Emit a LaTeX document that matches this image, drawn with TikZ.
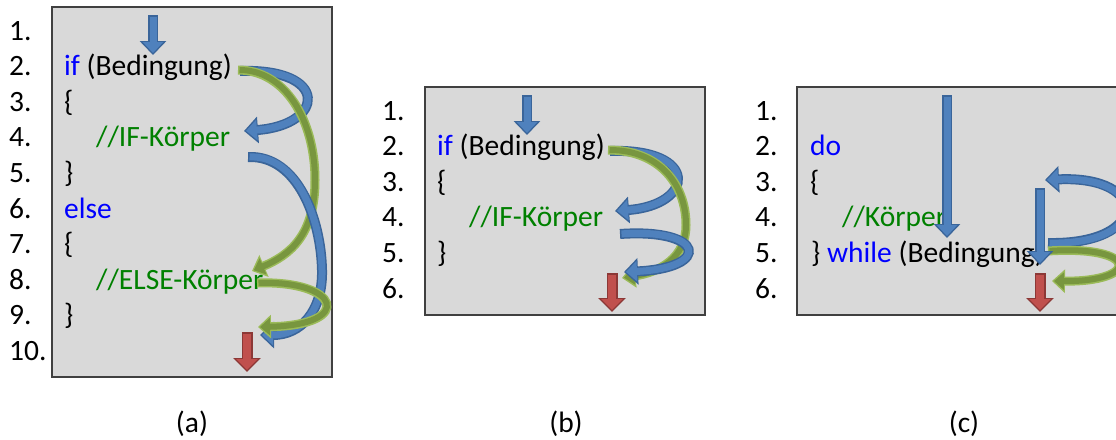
\documentclass[tikz,border=0pt]{standalone}
\usepackage{fontspec}
\setmainfont{Carlito}
\usetikzlibrary{arrows.meta}

\definecolor{panelfill}{HTML}{D9D9D9}
\definecolor{panelline}{HTML}{404040}
\definecolor{kwblue}{RGB}{0,0,255}
\definecolor{cmtgreen}{RGB}{0,128,0}
\definecolor{arrblue}{HTML}{4F81BD}
\definecolor{arrblueline}{HTML}{3A659A}
\definecolor{arrgreen}{HTML}{78963F}
\definecolor{arrgreenline}{HTML}{9BBB59}
\definecolor{arrred}{HTML}{C0504D}
\definecolor{arrredline}{HTML}{8C3836}

\newcommand{\kwd}[1]{\textcolor{kwblue}{#1}}

\begin{document}
\begin{tikzpicture}[x=1pt,y=-1pt,font=\fontsize{29.5}{35}\selectfont,
        every node/.style={anchor=base west,inner sep=0pt},
        panel/.style={draw=panelline,fill=panelfill,line width=1.3pt},
        blueflow/.style={draw=arrblueline,line width=10pt,-{Triangle[width=26pt,length=14pt]},
          postaction={draw=arrblue,line width=7pt,shorten <=1.5pt,shorten >=2pt,-{Triangle[width=20pt,length=11pt]}}},
        greenflow/.style={draw=arrgreenline,line width=9pt,-{Triangle[width=23pt,length=13pt]},
          postaction={draw=arrgreen,line width=6pt,shorten <=1.5pt,shorten >=2pt,-{Triangle[width=17pt,length=10pt]}}},
        redflow/.style={draw=arrredline,line width=11pt,-{Triangle[width=27pt,length=14pt]},
          postaction={draw=arrred,line width=8pt,shorten <=1.5pt,shorten >=2pt,-{Triangle[width=21pt,length=11pt]}}}]

        \useasboundingbox (0,0) rectangle (1116,439);
        \clip (0,0) rectangle (1116,439);

        % (a) if / else
        \draw[panel] (52,7) rectangle (332,377);
        \foreach \i in {1,...,10}
          \node (a\i) at (9,{40+35.6*(\i-1)}) {\i.};
        \node (aif) at (64,75.6) {\kwd{if} (Bedingung)};
        \node (aopen) at (64,111.2) {\{};
        \node[text=cmtgreen] (aifbody) at (96,146.8) {//IF-Körper};
        \node (aclose) at (64,182.4) {\}};
        \node (aelse) at (64,218) {\kwd{else}};
        \node (aopen2) at (64,253.6) {\{};
        \node[text=cmtgreen] (aelsebody) at (96,289.2) {//ELSE-Körper};
        \node (aclose2) at (64,324.8) {\}};

        \draw[blueflow] (153,15) -- (153,55);
        \draw[blueflow] (240,71) .. controls (330,68) and (325,125) .. (244,131);
        \draw[greenflow] (238,70) .. controls (285,70) and (315,120) .. (315,180)
          .. controls (315,235) and (290,255) .. (252,271);
        \draw[blueflow] (248,157) .. controls (298,155) and (321,220) .. (322,270)
          .. controls (323,312) and (300,335) .. (260,335);
        \draw[greenflow] (257,283) .. controls (340,280) and (355,325) .. (258,327);
        \draw[redflow] (247,332) -- (247,372);

        % (b) if
        \draw[panel] (425,87) rectangle (705,315);
        \foreach \i in {1,...,6}
          \node (b\i) at (382,{120+35.6*(\i-1)}) {\i.};
        \node (bif) at (437,155.6) {\kwd{if} (Bedingung)};
        \node (bopen) at (437,191.2) {\{};
        \node[text=cmtgreen] (bifbody) at (469,226.8) {//IF-Körper};
        \node (bclose) at (437,262.4) {\}};

        \draw[blueflow] (527,95) -- (527,135);
        \draw[blueflow] (610,151) .. controls (700,148) and (695,205) .. (615,211);
        \draw[greenflow] (608,150) .. controls (660,150) and (686,185) .. (686,225)
          .. controls (686,258) and (660,272) .. (622,278);
        \draw[blueflow] (620,234) .. controls (705,228) and (712,268) .. (624,272);
        \draw[redflow] (612,273) -- (612,312);

        % (c) do / while
        \draw[panel] (797,87) rectangle (1130,315);
        \foreach \i in {1,...,6}
          \node (c\i) at (755,{120+35.6*(\i-1)}) {\i.};
        \node (cdo) at (810,155.6) {\kwd{do}};
        \node (copen) at (810,191.2) {\{};
        \node[text=cmtgreen] (cbody) at (842,226.8) {//Körper};
        \node (cwhile) at (811,262.4) {\} \kwd{while} (Bedingung)};

        \draw[blueflow] (947,95) -- (947,238);
        \draw[blueflow] (1048,243) .. controls (1150,245) and (1150,175) .. (1045,180);
        \draw[greenflow] (1048,251) .. controls (1140,245) and (1140,282) .. (1052,281);
        \draw[blueflow] (1040,188) -- (1040,265);
        \draw[redflow] (1040,273) -- (1040,312);

        % captions
        \node[anchor=base] (capa) at (192,432) {(a)};
        \node[anchor=base] (capb) at (566,432) {(b)};
        \node[anchor=base] (capc) at (964,432) {(c)};
      \end{tikzpicture}
\end{document}
